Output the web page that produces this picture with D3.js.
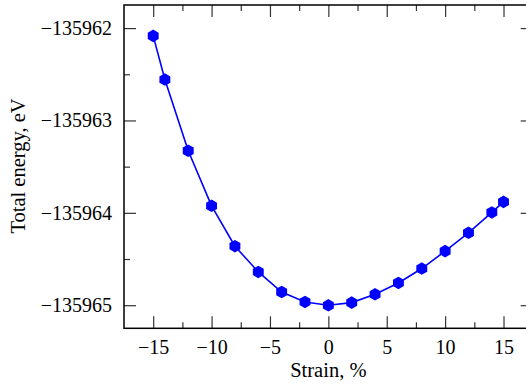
<!DOCTYPE html>
<html>
<head>
<meta charset="utf-8">
<script src="https://cdn.jsdelivr.net/npm/d3@7"></script>
<style>
  body { margin: 0; background: #fff; }
  text { font-family: "Liberation Serif", "Times New Roman", serif; fill: #000; }
</style>
</head>
<body>
<div id="container"></div>
<script>
// strain (%) and total energy (eV)
var strain = [-15, -14, -12, -10, -8, -6, -4, -2, 0, 2, 4, 6, 8, 10, 12, 14, 15];
var energy = [-135962.084, -135962.557, -135963.328, -135963.924, -135964.361,
              -135964.640, -135964.857, -135964.965, -135965.001, -135964.972,
              -135964.882, -135964.759, -135964.603, -135964.415, -135964.216,
              -135963.996, -135963.881];
var xTicks = [-15, -10, -5, 0, 5, 10, 15];
var xMinor = [-12.5, -7.5, -2.5, 2.5, 7.5, 12.5];
var yTicks = [-135965, -135964, -135963, -135962];
var yMinor = [-135964.5, -135963.5, -135962.5];

var width = 526, height = 385;
var plotLeft = 124, plotRight = 532.7, plotTop = 5, plotBottom = 328.3;

var svg = d3.select("#container").append("svg")
            .attr("width", width)
            .attr("height", height);

var x = d3.scaleLinear().domain([-17.5, 17.5]).range([plotLeft, plotRight]);
var y = d3.scaleLinear().domain([-135965.25, -135961.75]).range([plotBottom, plotTop]);

function addAxis(axis, tx, ty, labels) {
  var g = svg.append("g")
             .attr("transform", "translate(" + tx + "," + ty + ")")
             .call(axis);
  g.select(".domain").remove();
  g.selectAll(".tick line").attr("stroke", "#333").attr("stroke-width", 1.2);
  if (!labels) g.selectAll(".tick text").remove();
  else g.selectAll(".tick text")
        .style("font-family", "'Liberation Serif', serif")
        .style("font-size", "20px")
        .attr("fill", "#000");
  return g;
}

// bottom / top
addAxis(d3.axisBottom(x).tickValues(xTicks).tickSizeInner(-12).tickSizeOuter(0).tickPadding(12)
          .tickFormat(d3.format("d")), 0, plotBottom, true);
addAxis(d3.axisBottom(x).tickValues(xMinor).tickSizeInner(-6).tickSizeOuter(0), 0, plotBottom, false);
addAxis(d3.axisTop(x).tickValues(xTicks).tickSizeInner(-12).tickSizeOuter(0), 0, plotTop, false);
addAxis(d3.axisTop(x).tickValues(xMinor).tickSizeInner(-6).tickSizeOuter(0), 0, plotTop, false);

// left / right
addAxis(d3.axisLeft(y).tickValues(yTicks).tickSizeInner(-12).tickSizeOuter(0).tickPadding(12)
          .tickFormat(d3.format("d")), plotLeft, 0, true);
addAxis(d3.axisLeft(y).tickValues(yMinor).tickSizeInner(-6).tickSizeOuter(0), plotLeft, 0, false);
addAxis(d3.axisRight(y).tickValues(yTicks).tickSizeInner(-12).tickSizeOuter(0), plotRight, 0, false);
addAxis(d3.axisRight(y).tickValues(yMinor).tickSizeInner(-6).tickSizeOuter(0), plotRight, 0, false);

// frame
svg.append("rect")
   .attr("x", plotLeft)
   .attr("y", plotTop)
   .attr("width", plotRight - plotLeft)
   .attr("height", plotBottom - plotTop)
   .attr("fill", "none")
   .attr("stroke", "#000")
   .attr("stroke-width", 1.5);

var points = strain.map(function(d, i) { return [d, energy[i]]; });

var line = d3.line()
             .x(function(d) { return x(d[0]); })
             .y(function(d) { return y(d[1]); });

svg.append("path")
   .datum(points)
   .attr("d", line)
   .attr("fill", "none")
   .attr("stroke", "#0000ff")
   .attr("stroke-width", 1.6);

// hexagon marker, pointy top
function hexagon(r) {
  var p = d3.path();
  for (var k = 0; k < 6; k++) {
    var a = Math.PI / 3 * k - Math.PI / 2;
    if (k == 0) p.moveTo(r * Math.cos(a), r * Math.sin(a));
    else p.lineTo(r * Math.cos(a), r * Math.sin(a));
  }
  p.closePath();
  return p.toString();
}

svg.selectAll(".marker")
   .data(points)
   .enter()
   .append("path")
   .attr("class", "marker")
   .attr("d", hexagon(6.3))
   .attr("transform", function(d) { return "translate(" + x(d[0]) + "," + y(d[1]) + ")"; })
   .attr("fill", "#0000ff");

// axis titles
svg.append("text")
   .attr("x", x(0))
   .attr("y", 377)
   .attr("text-anchor", "middle")
   .style("font-size", "20.5px")
   .text("Strain, %");

svg.append("text")
   .attr("transform", "translate(25,166) rotate(-90)")
   .attr("text-anchor", "middle")
   .style("font-size", "20.5px")
   .text("Total energy, eV");
</script>
</body>
</html>
